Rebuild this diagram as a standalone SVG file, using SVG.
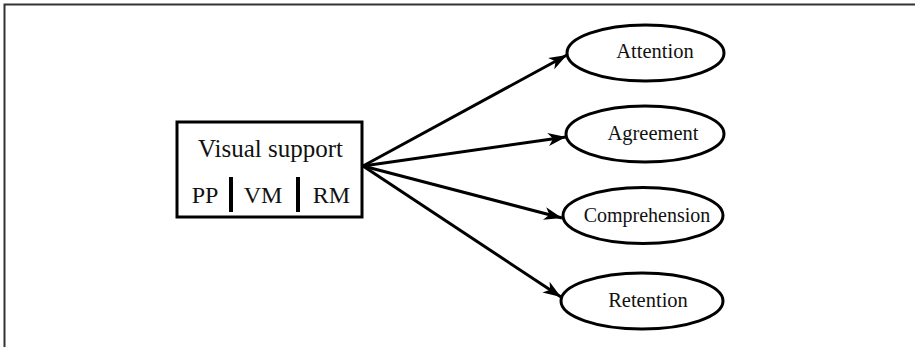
<svg xmlns="http://www.w3.org/2000/svg" width="915" height="347" viewBox="0 0 915 347">
<style>
.t{font-family:"Liberation Serif","Times New Roman",serif;fill:#111;text-anchor:middle}
.n{fill:#fff;stroke:#000;stroke-width:3}
.c{stroke:#000;stroke-width:3;fill:none}
</style>
<defs>
<marker id="ah" markerUnits="userSpaceOnUse" markerWidth="20" markerHeight="16" viewBox="0 0 20 16" refX="18" refY="8" orient="auto">
<path d="M0,1.5 L18,8 L0,14.5 L5,8 Z" fill="#000"/>
</marker>
</defs>
<rect width="915" height="347" fill="#fff"/>
<path d="M4.5,347 V4.5 H915" fill="none" stroke="#333" stroke-width="2"/>
<g id="connectors">
<line class="c" x1="363" y1="166" x2="567" y2="55" marker-end="url(#ah)"/>
<line class="c" x1="363" y1="166" x2="566" y2="137" marker-end="url(#ah)"/>
<line class="c" x1="363" y1="166" x2="562" y2="218" marker-end="url(#ah)"/>
<line class="c" x1="363" y1="166" x2="561" y2="297" marker-end="url(#ah)"/>
</g>
<g id="visual-support">
<rect class="n" x="177" y="122" width="185" height="95"/>
<text class="t" x="270.5" y="157" font-size="25">Visual support</text>
<text class="t" x="205" y="203" font-size="24">PP</text>
<text class="t" x="263" y="203" font-size="24">VM</text>
<text class="t" x="331.5" y="203" font-size="24">RM</text>
<line x1="231" y1="177" x2="231" y2="212" stroke="#000" stroke-width="4"/>
<line x1="298" y1="177" x2="298" y2="212" stroke="#000" stroke-width="4"/>
</g>
<g id="attention">
<ellipse class="n" cx="645.5" cy="53" rx="78.5" ry="28"/>
<text class="t" x="655" y="58" font-size="20.5">Attention</text>
</g>
<g id="agreement">
<ellipse class="n" cx="645" cy="134" rx="79" ry="28"/>
<text class="t" x="653" y="140" font-size="20.5">Agreement</text>
</g>
<g id="comprehension">
<ellipse class="n" cx="643" cy="215.5" rx="80" ry="28"/>
<text class="t" x="647" y="222" font-size="20">Comprehension</text>
</g>
<g id="retention">
<ellipse class="n" cx="642" cy="301" rx="81" ry="28"/>
<text class="t" x="648" y="307" font-size="20.5">Retention</text>
</g>
</svg>
